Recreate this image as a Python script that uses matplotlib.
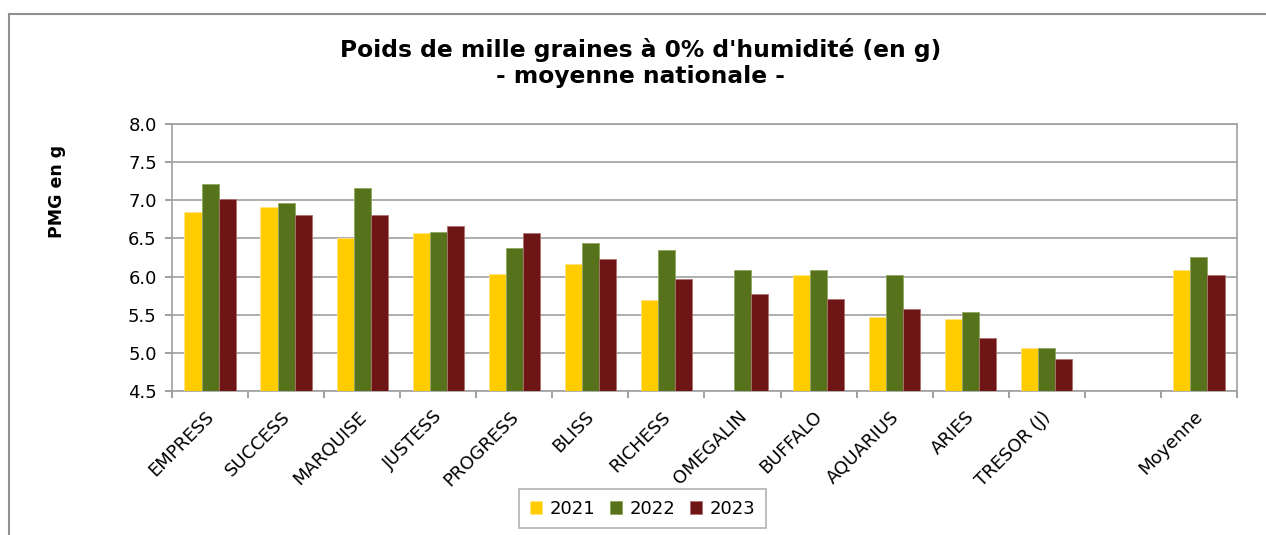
import matplotlib.pyplot as plt
import matplotlib.transforms as mtransforms
import numpy as np
from matplotlib.lines import Line2D

varietes = ["EMPRESS", "SUCCESS", "MARQUISE", "JUSTESS", "PROGRESS", "BLISS",
            "RICHESS", "OMEGALIN", "BUFFALO", "AQUARIUS", "ARIES", "TRESOR (J)",
            "", "Moyenne"]
pmg_2021 = [6.84, 6.91, 6.51, 6.57, 6.04, 6.17, 5.69, np.nan, 6.02, 5.47, 5.45, 5.06, np.nan, 6.08]
pmg_2022 = [7.22, 6.97, 7.16, 6.59, 6.37, 6.44, 6.35, 6.09, 6.08, 6.02, 5.54, 5.07, np.nan, 6.26]
pmg_2023 = [7.02, 6.81, 6.81, 6.66, 6.57, 6.23, 5.97, 5.77, 5.71, 5.58, 5.20, 4.92, np.nan, 6.02]

annees = ["2021", "2022", "2023"]
couleurs = ["#FFCC00", "#56731C", "#6E1616"]
bords = ["#FFE680", "#8FA860", "#B07070"]

fig = plt.figure(figsize=(12.66, 5.35), dpi=100)
ax = fig.add_axes([0.1359, 0.2692, 0.8411, 0.499])

x = np.arange(len(varietes))
w = 0.225
for i, serie in enumerate([pmg_2021, pmg_2022, pmg_2023]):
    ax.bar(x + (i - 1) * w, serie, width=w, bottom=0, color=couleurs[i],
           edgecolor=bords[i], linewidth=0.6, label=annees[i], zorder=3)

ax.set_ylim(4.5, 8.0)
ax.set_xlim(-0.5, len(varietes) - 0.5)
ax.set_yticks(np.arange(4.5, 8.01, 0.5))
ax.set_yticklabels([f"{v:.1f}" for v in np.arange(4.5, 8.01, 0.5)], fontsize=13)
ax.yaxis.grid(True, color="#A0A0A0", linewidth=1.2, zorder=0)

ax.set_xticks(np.arange(-0.5, len(varietes), 1.0))
ax.set_xticklabels([])
ax.set_xticks(x, minor=True)
ax.set_xticklabels(varietes, minor=True, rotation=45, ha="right",
                   rotation_mode="anchor", fontsize=13)
ax.tick_params(axis="x", which="minor", length=0, pad=12)
ax.tick_params(axis="x", which="major", length=5, color="#909090", width=1.2)
ax.tick_params(axis="y", length=5, color="#909090", width=1.2, pad=6)

# léger décalage des étiquettes vers la gauche
decal = mtransforms.ScaledTranslation(-5 / 100, 0, fig.dpi_scale_trans)
for lbl in ax.get_xticklabels(minor=True):
    lbl.set_transform(lbl.get_transform() + decal)

for s in ax.spines.values():
    s.set_color("#A0A0A0")
    s.set_linewidth(1.2)

fig.text(0.506, 0.882, "Poids de mille graines à 0% d'humidité (en g)\n- moyenne nationale -",
         ha="center", va="center", fontsize=16.8, fontweight="bold", linespacing=1.18)
fig.text(0.045, 0.642, "PMG en g", rotation=90, ha="center", va="center",
         fontsize=12.5, fontweight="bold")

leg = fig.legend(loc="center", bbox_to_anchor=(0.5075, 0.0495), ncol=3, fontsize=13,
                 frameon=True, fancybox=False, handlelength=0.7, handleheight=0.7,
                 handletextpad=0.4, columnspacing=0.8, borderpad=0.6)
leg.get_frame().set_edgecolor("#A0A0A0")
leg.get_frame().set_linewidth(1.2)

# cadre extérieur du graphique
fig.add_artist(Line2D([9 / 1266, 9 / 1266], [0, 1 - 14 / 535], color="#909090", lw=1.5))
fig.add_artist(Line2D([9 / 1266, 1], [1 - 14 / 535, 1 - 14 / 535], color="#909090", lw=1.5))

fig.savefig("out.png", dpi=100)
